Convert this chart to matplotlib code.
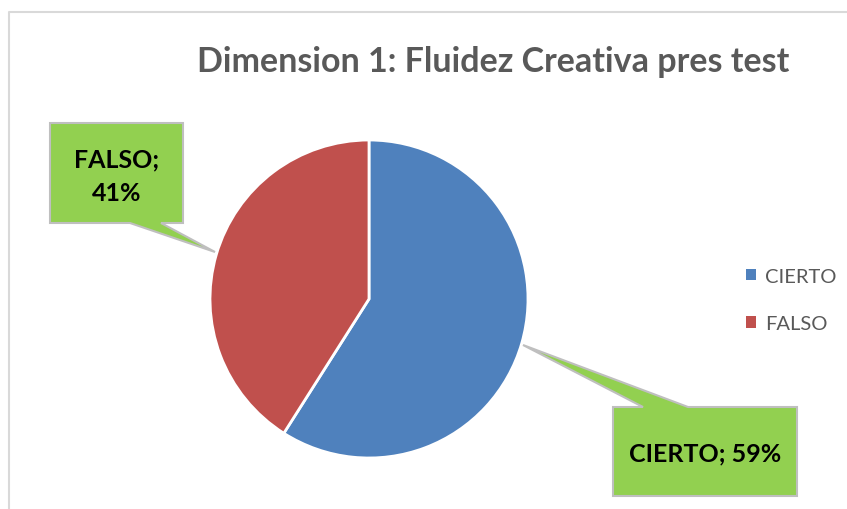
import matplotlib
matplotlib.use('Agg')
import matplotlib.pyplot as plt
from matplotlib.patches import Polygon, Patch

plt.rcParams['font.family'] = ['Lato', 'DejaVu Sans']

labels = ['CIERTO', 'FALSO']
values = [59, 41]
colors = ['#4F81BD', '#C0504D']
title = 'Dimension 1: Fluidez Creativa pres test'

W, H = 847, 510
fig = plt.figure(figsize=(W / 100, H / 100), dpi=100)
ax = fig.add_axes([0, 0, 1, 1])
ax.set_xlim(0, W)
ax.set_ylim(0, H)
ax.set_aspect('equal')
ax.axis('off')


def Y(y):
    # image row -> data y
    return H - y


# chart frame (partially visible)
ax.plot([9, 9, W], [0, Y(13), Y(13)], color='#D9D9D9', lw=1.5, zorder=1)

wedges, _ = ax.pie(values, colors=colors, startangle=90, counterclock=False,
                   center=(369, Y(300)), radius=159,
                   wedgeprops=dict(edgecolor='white', linewidth=2))
ax.set_xlim(0, W)
ax.set_ylim(0, H)

ax.text(493, Y(62), title, ha='center', va='center', fontsize=24.5,
        fontweight='bold', color='#595959')

# callouts
box_falso = [(50, 124), (183, 124), (183, 224), (161, 224), (215, 253),
             (130, 224), (50, 224)]
box_cierto = [(613, 408), (643, 408), (523, 346), (688, 408), (797, 408),
              (797, 497), (613, 497)]
for pts in (box_falso, box_cierto):
    ax.add_patch(Polygon([(x, Y(y)) for x, y in pts], closed=True,
                         facecolor='#92D050', edgecolor='#BFBFBF', lw=1.5,
                         zorder=5))

ax.text(117, Y(177), f'{labels[1]};\n{values[1]}%', ha='center', va='center',
        fontsize=18, fontweight='bold', color='black', linespacing=1.55,
        zorder=6)
ax.text(705, Y(454), f'{labels[0]}; {values[0]}%', ha='center', va='center',
        fontsize=18, fontweight='bold', color='black', zorder=6)

handles = [Patch(facecolor=c, edgecolor='none') for c in colors]
leg = ax.legend(handles, labels, loc='center left',
                bbox_to_anchor=(728 / W, 1 - 301 / H), frameon=False,
                fontsize=14.5, handlelength=0.5, handleheight=0.5,
                handletextpad=0.45, labelspacing=1.5, labelcolor='#595959')

fig.savefig('out.png', dpi=100)
